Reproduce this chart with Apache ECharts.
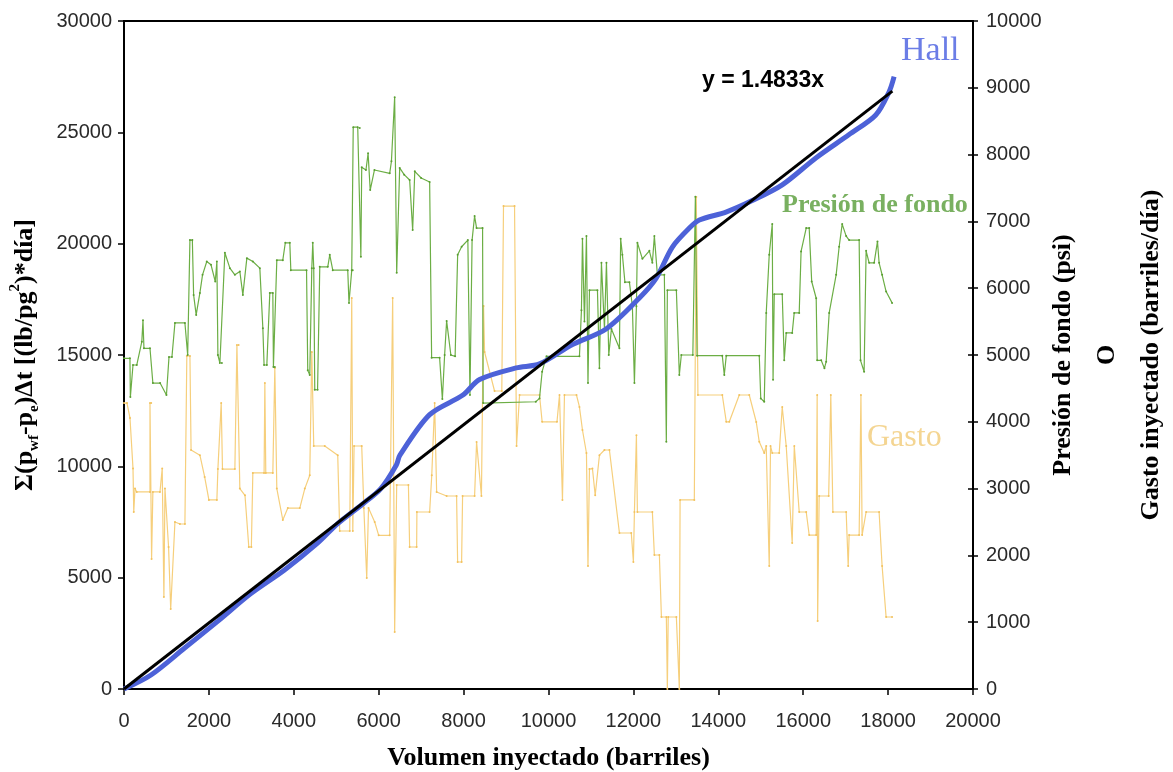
<!DOCTYPE html>
<html>
<head>
<meta charset="utf-8">
<script src="https://cdn.jsdelivr.net/npm/echarts@6/dist/echarts.min.js"></script>
<style>
  html, body { margin: 0; padding: 0; background: #fff; }
  #chart { width: 1173px; height: 772px; }
</style>
</head>
<body>
<div id="chart"></div>
<script>
// volumen inyectado (barriles) vs presion de fondo (psi), eje derecho
var presionVol = [0,140,150,212,300,420,447,470,612,680,850,1000,1060,1129,1200,1435,1500,1553,1610,1640,1700,1788,1850,1950,2050,2150,2188,2212,2259,2306,2376,2494,2612,2729,2800,2894,3035,3200,3271,3300,3365,3435,3506,3520,3553,3600,3741,3800,3906,3930,4300,4329,4376,4424,4447,4470,4494,4560,4612,4800,4847,4918,5271,5300,5365,5388,5400,5506,5553,5580,5600,5700,5750,5800,5900,6259,6300,6376,6424,6494,6600,6729,6800,6850,7000,7200,7247,7435,7500,7553,7600,7700,7800,7860,7953,8100,8150,8200,8259,8306,8447,8460,9700,9788,9850,9953,10729,10776,10800,10847,10894,10930,10965,11153,11200,11247,11318,11365,11420,11482,11671,11700,11741,11800,11906,11976,12024,12071,12094,12212,12376,12447,12494,12565,12729,12776,12800,13012,13082,13129,13400,13460,13500,14094,14141,14188,14965,15000,15082,15129,15200,15271,15290,15318,15506,15553,15600,15741,15788,15906,15950,16071,16141,16200,16306,16329,16424,16500,16541,16612,16776,16847,16918,17012,17082,17318,17350,17435,17482,17553,17671,17750,17788,17859,17953,18094];
var presionPsi = [4950,4950,4370,4850,4850,5200,5520,5100,5100,4580,4580,4400,4970,4970,5480,5480,5000,6720,6720,5900,5600,5930,6200,6400,6350,6100,6400,5000,4880,4880,6530,6300,6200,6250,5900,6450,6400,6300,5400,4850,4850,5930,5930,4820,4820,6420,6420,6680,6680,6270,6270,4770,4700,6300,6680,6300,4480,4480,6320,6320,6500,6270,6270,5780,6270,6270,8410,8410,8400,6470,7810,7770,8020,7470,7770,7720,7900,8860,6230,7800,7700,7620,6870,7750,7650,7590,4960,4960,4340,5000,5510,5000,4980,6500,6620,6720,4400,6720,7080,6900,6900,4280,4300,4350,4750,4980,4980,5670,6740,5500,6780,4580,5970,5970,4800,6380,5390,6380,5000,5390,5100,6740,6500,6090,6090,5730,4580,5730,6680,6440,6560,6380,6780,6200,6200,3700,5970,5970,4700,5000,5000,7370,4990,4990,4700,4990,4990,4350,4300,5630,6500,6960,4630,5910,5910,4920,5330,5330,5630,5630,6550,6900,6900,6100,5850,4920,4920,4800,4900,5630,6200,6620,6960,6780,6720,6720,4920,4750,6560,6380,6380,6700,6380,6200,5950,5780];

// gasto inyectado (barriles/dia), eje derecho
var gastoVol = [0,70,141,212,230,259,300,612,612,640,650,680,847,900,940,965,1050,1100,1200,1318,1435,1480,1553,1580,1788,1900,2000,2188,2212,2290,2320,2612,2660,2700,2729,2850,2940,3000,3035,3300,3318,3340,3506,3553,3600,3741,3859,4141,4259,4376,4424,4470,4729,5035,5082,5318,5365,5390,5420,5600,5650,5718,5760,5906,6000,6259,6329,6376,6424,6700,6729,6894,6900,7200,7250,7318,7365,7600,7835,7859,7953,7976,8259,8306,8420,8470,8494,8729,8900,8940,9200,9247,9318,9788,9850,10200,10259,10329,10376,10659,10729,10800,10894,10930,10965,11035,11100,11200,11318,11435,11671,11950,12000,12024,12071,12094,12447,12494,12612,12660,12776,12800,12820,13012,13082,13100,13435,13482,13520,14094,14188,14259,14494,14729,14894,14965,15082,15129,15200,15230,15271,15435,15506,15600,15741,15790,15906,16071,16141,16306,16329,16340,16376,16600,16650,16700,17012,17060,17082,17318,17360,17388,17482,17788,17859,17953,18094];
var gastoBpd = [4280,4280,4057,3300,2650,3000,2950,2950,4280,4280,1946,2950,2950,3300,1377,3000,2126,1198,2500,2470,2470,4985,4985,3578,3500,3174,2830,2830,3293,4281,3293,3293,5150,5150,3000,2900,2126,2126,3234,3234,4580,3234,3234,4805,3000,2530,2709,2709,3000,3200,5045,3638,3638,3500,2365,2365,5853,2365,3638,3638,2709,1662,2709,2500,2300,2300,5853,853,3054,3054,2126,2126,2650,2650,3200,4281,2949,2889,2889,1901,1901,2889,2889,3697,2889,5733,5045,4461,4461,7230,7230,3638,4401,4401,4000,4000,4401,2830,4401,4401,4222,3877,3533,1841,3293,3300,2900,3500,3578,3578,2335,2335,1900,2650,3800,2650,2650,2006,2006,1078,1078,0,1078,1078,0,2830,2830,7365,4401,4401,4000,4000,4401,4401,3997,3700,3533,3638,1841,3638,3533,3533,4222,3638,2186,3638,2650,2650,2305,2305,4401,1018,2889,2889,4401,2650,2650,1841,2305,2305,4401,2305,2650,2650,1841,1078,1078];

// curva de Hall, eje izquierdo
var hallVol = [0,635,1428,2212,2988,3781,4565,5035,5624,6050,6416,6500,7200,7984,8376,9239,9788,10565,11357,12141,12534,12918,13318,13553,14181,14800,15506,16298,17082,17710,18024,18141];
var hallSum = [0,630,1840,3050,4285,5345,6560,7430,8310,9000,10060,10500,12320,13200,13900,14420,14600,15470,16170,17560,18440,19850,20700,21060,21420,21935,22640,23850,24900,25780,26820,27500];

// linea de tendencia y = 1.4833x
var trendSlope = 1.4833;
var trendVol = [0, 18100];

var leftTicks = [0, 30000, 5000];
var rightTicks = [0, 10000, 1000];
var bottomTicks = [0, 20000, 2000];

function zip(xs, ys) {
    var out = [];
    for (var i = 0; i < xs.length; i++) out.push([xs[i], ys[i]]);
    return out;
}

var myChart = echarts.init(document.getElementById('chart'));
var serif = "'Liberation Serif', 'DejaVu Serif', serif";
var sans = "'Liberation Sans', Arial, sans-serif";
var plain = function (v) { return String(v); };

var option = {
    backgroundColor: '#fff',
    animation: false,
    grid: {
        left: 124, right: 200, top: 21, bottom: 83,
        outerBoundsMode: 'none',
        containLabel: false,
        show: true, borderColor: '#000', borderWidth: 2
    },
    xAxis: {
        type: 'value',
        min: bottomTicks[0], max: bottomTicks[1], interval: bottomTicks[2],
        name: 'Volumen inyectado (barriles)',
        nameLocation: 'middle',
        nameGap: 56,
        nameTextStyle: { fontFamily: serif, fontWeight: 'bold', fontSize: 26, color: '#000' },
        axisLine: { lineStyle: { color: '#000', width: 2 } },
        axisTick: { length: 6, lineStyle: { color: '#000', width: 1.5 } },
        axisLabel: { margin: 22, fontFamily: sans, fontSize: 20, color: '#2a2a2a', formatter: plain },
        splitLine: { show: false }
    },
    yAxis: [
        {
            type: 'value',
            min: leftTicks[0], max: leftTicks[1], interval: leftTicks[2],
            name: '{n|Σ(p}{s|wf}{n|-p}{s|e}{n|)Δt [(lb/pg}{p|2}{n|)*día]}',
            nameLocation: 'middle',
            nameRotate: 90,
            nameGap: 82,
            nameTextStyle: {
                rich: {
                    n: { fontFamily: serif, fontWeight: 'bold', fontSize: 26, color: '#000', lineHeight: 34, verticalAlign: 'middle' },
                    s: { fontFamily: serif, fontWeight: 'bold', fontSize: 15, color: '#000', lineHeight: 15, verticalAlign: 'bottom' },
                    p: { fontFamily: serif, fontWeight: 'bold', fontSize: 15, color: '#000', lineHeight: 15, verticalAlign: 'top' }
                }
            },
            axisLine: { show: true, lineStyle: { color: '#000', width: 2 } },
            axisTick: { show: true, length: 6, lineStyle: { color: '#000', width: 1.5 } },
            axisLabel: { margin: 12, fontFamily: sans, fontSize: 20, color: '#2a2a2a', formatter: plain },
            splitLine: { show: false }
        },
        {
            type: 'value',
            position: 'right',
            min: rightTicks[0], max: rightTicks[1], interval: rightTicks[2],
            name: 'Presión de fondo (psi)\nO\nGasto inyectado (barriles/día)',
            nameLocation: 'middle',
            nameRotate: 90,
            nameGap: 68,
            nameMoveOverlap: false,
            nameTextStyle: { fontFamily: serif, fontWeight: 'bold', fontSize: 26, color: '#000', lineHeight: 44 },
            axisLine: { show: true, lineStyle: { color: '#000', width: 2 } },
            axisTick: { show: true, length: 5, lineStyle: { color: '#000', width: 1.5 } },
            axisLabel: { margin: 13, fontFamily: sans, fontSize: 20, color: '#2a2a2a', formatter: plain },
            splitLine: { show: false }
        },
        {
            // marcas interiores del eje derecho (las marcas cruzan el eje)
            type: 'value',
            position: 'right',
            min: rightTicks[0], max: rightTicks[1], interval: rightTicks[2],
            axisLine: { show: false },
            axisTick: { show: true, inside: true, length: 5, lineStyle: { color: '#000', width: 1.5 } },
            axisLabel: { show: false },
            splitLine: { show: false }
        }
    ],
    series: [
        {
            name: 'Gasto', type: 'line', yAxisIndex: 1,
            data: zip(gastoVol, gastoBpd),
            symbol: 'circle', symbolSize: 2, showSymbol: true,
            itemStyle: { color: '#f2c25e' },
            lineStyle: { color: '#f6cf7c', width: 1.2 },
            z: 2
        },
        {
            name: 'Presión de fondo', type: 'line', yAxisIndex: 1,
            data: zip(presionVol, presionPsi),
            symbol: 'circle', symbolSize: 2, showSymbol: true,
            itemStyle: { color: '#5a9e32' },
            lineStyle: { color: '#6cae45', width: 1.2 },
            z: 3
        },
        {
            name: 'Hall', type: 'line', yAxisIndex: 0,
            data: zip(hallVol, hallSum),
            symbol: 'none', smooth: 0.3,
            lineStyle: { color: '#4d62d8', width: 5 },
            z: 4
        },
        {
            name: 'Tendencia', type: 'line', yAxisIndex: 0,
            data: trendVol.map(function (v) { return [v, v * trendSlope]; }),
            symbol: 'none',
            lineStyle: { color: '#000', width: 3 },
            z: 5
        }
    ],
    graphic: [
        { type: 'text', left: 702, top: 69, style: { text: 'y = 1.4833x', font: "bold 23px 'Liberation Sans', Arial, sans-serif", fill: '#000' } },
        { type: 'text', left: 901, top: 34, style: { text: 'Hall', font: "34px 'Liberation Serif', serif", fill: '#6b7de6' } },
        { type: 'text', left: 782, top: 192, style: { text: 'Presión de fondo', font: "bold 26px 'Liberation Serif', serif", fill: '#79b060' } },
        { type: 'text', left: 867, top: 422, style: { text: 'Gasto', font: "32px 'Liberation Serif', serif", fill: '#f4d592' } }
    ]
};
myChart.setOption(option);
</script>
</body>
</html>
